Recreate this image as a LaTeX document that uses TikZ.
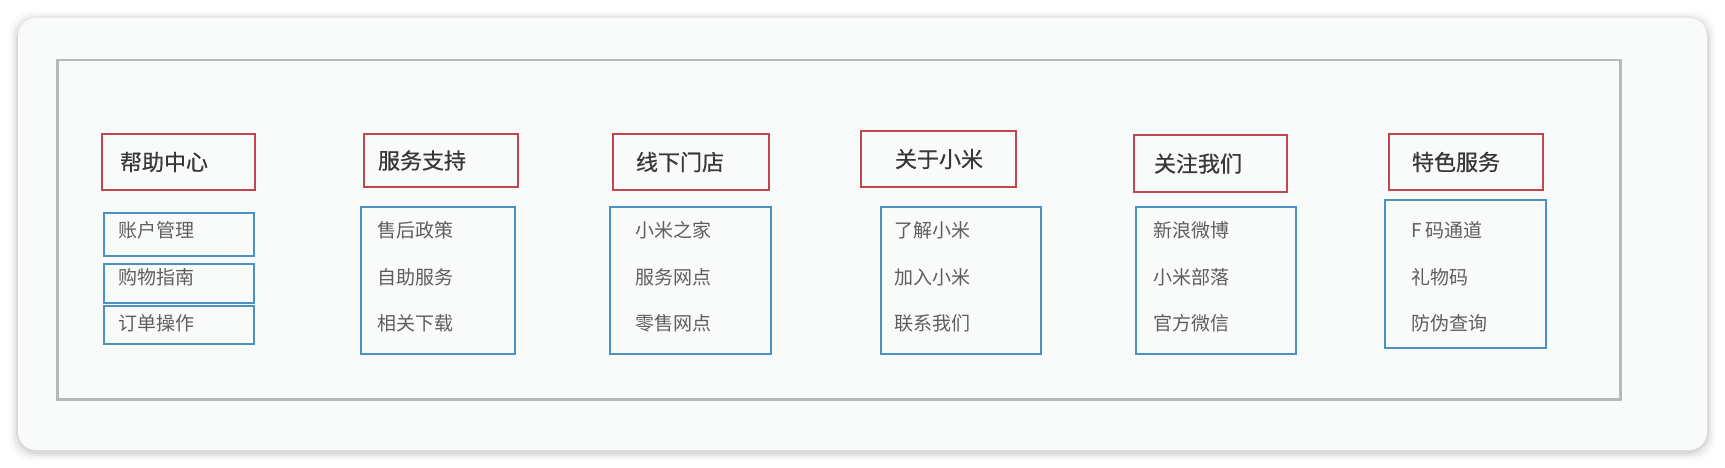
\documentclass[tikz,border=0pt]{standalone}
\usepackage{fontspec}
\newfontfamily\cjk{Noto Sans CJK SC}
\newfontfamily\cjkhead[FakeBold=0.6]{Noto Sans CJK SC}
\usetikzlibrary{positioning}
\definecolor{headred}{HTML}{C0474F}
\definecolor{listblue}{HTML}{4A92C2}
\definecolor{framegray}{HTML}{B6B9B7}
\definecolor{cardfill}{HTML}{F8FBF9}
\definecolor{headtext}{HTML}{383838}
\definecolor{itemtext}{HTML}{5E5E5E}

\begin{document}
\begin{tikzpicture}[
    x=1pt, y=-1pt,
    head/.style={rectangle, draw=headred, line width=2pt, anchor=north west, align=left, inner ysep=0pt, text=headtext, font=\cjkhead\fontsize{22}{24}\selectfont},
    listbox/.style={rectangle, draw=listblue, line width=2pt, anchor=north west, inner sep=0pt},
    item/.style={anchor=west, inner sep=0pt, text=itemtext, font=\cjk\fontsize{19}{21}\selectfont}
]
\useasboundingbox (0,0) rectangle (1725,468);
\fill[white] (0,0) rectangle (1725,468);

% Card with soft shadow
\foreach \s/\o in {9/0.02, 6/0.03, 4/0.04, 2/0.06} {
    \fill[black, opacity=\o, rounded corners=22pt] (18-\s,20-\s) rectangle (1707+\s,452+\s);
}
\fill[cardfill, rounded corners=18pt] (18,18) rectangle (1707,450);

% Outer frame
\node[rectangle, draw=framegray, line width=2.5pt, anchor=north west, inner sep=0pt, minimum width=1563pt, minimum height=339pt] (frame) at (56,59) {};

% Column headers
\foreach \n/\x/\y/\w/\h/\p/\t in {help/101/133/153/56/18/帮助中心, serv/363/133/154/53/14/服务支持, store/612/133/156/56/23/线下门店, about/860/130/155/56/34/关于小米, follow/1133/134/153/57/20/关注我们, special/1388/133/154/56/23/特色服务} {
    \pgfmathsetmacro{\tw}{\w-2*\p}
    \node[head, minimum width=\w pt, minimum height=\h pt, inner xsep=\p pt, text width=\tw pt] (\n) at (\x,\y) {\t};
}

% List boxes
\node[listbox, minimum width=150pt, minimum height=43pt] (help1) at (103,212) {};
\node[listbox, minimum width=150pt, minimum height=39pt] (help2) at (103,263) {};
\node[listbox, minimum width=150pt, minimum height=38pt] (help3) at (103,305) {};
\foreach \n/\x/\y/\w/\h in {serv/360/206/154/147, store/609/206/161/147, about/880/206/160/147, follow/1135/206/160/147, special/1384/199/161/148} {
    \node[listbox, minimum width=\w pt, minimum height=\h pt] (\n-list) at (\x,\y) {};
}

% Items
\foreach \n/\x/\a/\b/\c in {help/118/账户管理/购物指南/订单操作, serv/377/售后政策/自助服务/相关下载, store/635/小米之家/服务网点/零售网点, about/894/了解小米/加入小米/联系我们, follow/1153/新浪微博/小米部落/官方微信, special/1411/F 码通道/礼物码/防伪查询} {
    \node[item] (\n-a) at (\x,230) {\a};
    \node[item] (\n-b) at (\x,277) {\b};
    \node[item] (\n-c) at (\x,323) {\c};
}

\end{tikzpicture}
\end{document}
